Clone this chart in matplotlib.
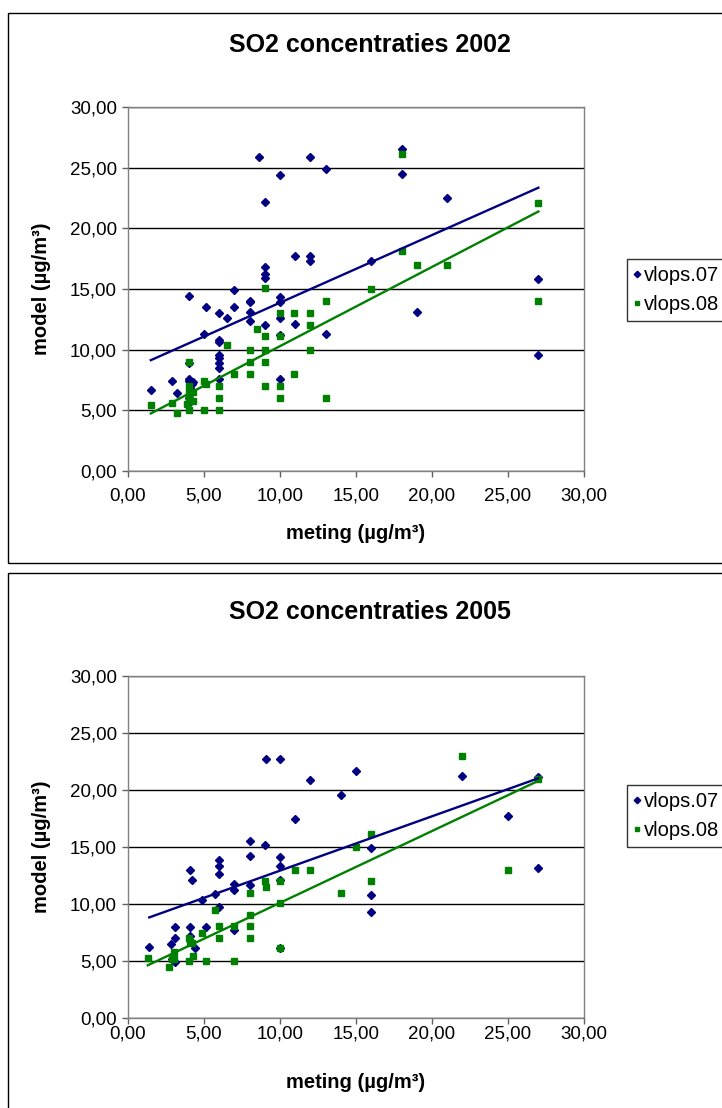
import matplotlib.pyplot as plt
from matplotlib.patches import Rectangle
from matplotlib.ticker import FuncFormatter
import numpy as np

plt.rcParams['font.family'] = ['Liberation Sans', 'DejaVu Sans']

# 2002 data (meting, model)
x07_2002 = [1.5, 2.9, 3.2, 4.0, 4.0, 4.0, 4.0, 4.2, 4.3, 4.0, 4.0, 4.0, 4.1, 5.0, 5.1, 6.0, 6.0,
            6.0, 6.0, 6.0, 6.0, 6.0, 6.0, 6.5, 7.0, 7.0, 8.0, 8.0, 8.0, 8.0, 8.6, 9.0, 9.0, 9.0,
            9.0, 9.0, 10.0, 10.0, 10.0, 10.0, 10.0, 10.0, 11.0, 11.0, 12.0, 12.0, 12.0, 13.0,
            13.0, 16.0, 18.0, 18.0, 19.0, 21.0, 27.0, 27.0]
y07_2002 = [6.7, 7.4, 6.4, 14.4, 8.9, 7.6, 7.4, 7.2, 7.3, 5.6, 6.0, 6.3, 6.8, 11.3, 13.5, 13.0,
            10.8, 10.6, 9.6, 9.3, 8.9, 8.5, 7.6, 12.6, 13.5, 14.9, 14.0, 13.9, 13.1, 12.4, 25.9,
            22.2, 16.8, 16.2, 15.9, 12.0, 24.4, 14.3, 13.9, 12.6, 11.2, 7.6, 17.7, 12.1, 25.9,
            17.7, 17.3, 24.9, 11.3, 17.3, 26.5, 24.5, 13.1, 22.5, 15.8, 9.6]
x08_2002 = [1.5, 2.9, 3.2, 4.0, 4.0, 4.0, 4.3, 4.0, 4.0, 4.3, 3.9, 5.0, 5.1, 5.0, 6.0, 6.0, 6.0,
            6.5, 7.0, 8.0, 8.0, 8.0, 8.5, 9.0, 9.0, 9.0, 9.0, 9.0, 10.0, 10.0, 10.0, 10.0, 10.9,
            10.9, 12.0, 12.0, 12.0, 13.0, 13.0, 16.0, 18.0, 18.0, 19.0, 21.0, 27.0, 27.0]
y08_2002 = [5.4, 5.6, 4.8, 9.0, 7.0, 6.5, 6.5, 6.0, 5.0, 5.8, 5.5, 7.4, 7.2, 5.0, 7.0, 6.0, 5.0,
            10.4, 8.0, 10.0, 9.0, 8.0, 11.7, 15.1, 11.1, 10.0, 9.0, 7.0, 13.0, 11.1, 7.0, 6.0,
            13.0, 8.0, 13.0, 12.0, 10.0, 14.0, 6.0, 15.0, 26.1, 18.1, 17.0, 17.0, 22.1, 14.0]

# 2005 data
x07_2005 = [1.4, 2.8, 2.9, 3.1, 3.1, 3.1, 4.1, 4.2, 4.1, 4.1, 4.4, 4.9, 5.1, 5.7, 6.0, 6.0, 6.0,
            6.0, 7.0, 7.0, 7.0, 8.0, 8.0, 8.0, 9.1, 9.0, 10.0, 10.0, 10.0, 10.0, 10.0, 11.0, 12.0,
            14.0, 15.0, 16.0, 16.0, 16.0, 22.0, 25.0, 27.0, 27.0]
y07_2005 = [6.25, 6.5, 5.2, 4.9, 7.05, 7.95, 13.0, 12.1, 7.95, 7.2, 6.1, 10.35, 7.95, 10.9, 13.9,
            13.3, 12.6, 9.7, 11.75, 11.2, 7.7, 15.5, 14.25, 11.7, 22.7, 15.2, 22.7, 14.1, 13.3,
            12.1, 6.1, 17.5, 20.9, 19.6, 21.7, 14.9, 10.8, 9.3, 21.2, 17.7, 13.2, 21.1]
x08_2005 = [1.3, 2.7, 2.9, 3.0, 3.0, 4.0, 4.1, 4.2, 4.0, 4.3, 4.85, 5.1, 5.7, 6.0, 6.0, 7.0, 7.0,
            8.0, 8.0, 8.0, 8.0, 9.0, 9.1, 10.0, 10.0, 10.0, 11.0, 12.0, 14.0, 15.0, 16.0, 16.0,
            22.0, 25.0, 27.0]
y08_2005 = [5.25, 4.45, 5.15, 5.15, 5.75, 7.0, 6.7, 6.6, 5.0, 5.4, 7.5, 5.0, 9.5, 8.05, 7.0,
            8.05, 5.0, 11.0, 9.0, 8.05, 7.0, 12.05, 11.5, 12.05, 10.05, 6.1, 13.0, 13.0, 11.0,
            15.0, 16.1, 12.0, 23.0, 13.0, 21.0]

series_names = ['vlops.07', 'vlops.08']
years = ['2002', '2005']

W, H = 722, 1108
fig = plt.figure(figsize=(W / 100, H / 100), dpi=100)

# outer chart boxes (pixel coords)
for top, bot in [(13, 563), (573, 1120)]:
    fig.patches.append(Rectangle((8 / W, 1 - bot / H), (W + 20) / W, (bot - top) / H,
                                 transform=fig.transFigure, fill=False, ec='black', lw=1))

comma = FuncFormatter(lambda v, p: f'{v:.2f}'.replace('.', ','))


def draw(ax, xs07, ys07, xs08, ys08, year, title_y, xlab_y, xpad, leg_top):
    for x, y, c, m, ms, name in [(xs07, ys07, '#000080', 'D', 4.4, series_names[0]),
                                 (xs08, ys08, '#008000', 's', 4.2, series_names[1])]:
        ax.plot(x, y, ls='none', marker=m, ms=ms, color=c, mec=c, label=name, zorder=3)
        k, b = np.polyfit(x, y, 1)
        xx = np.array([min(x), max(x)])
        ax.plot(xx, k * xx + b, color=c, lw=1.7, zorder=4)
    ax.set_xlim(0, 30)
    ax.set_ylim(0, 30)
    ax.set_xticks(np.arange(0, 31, 5))
    ax.set_yticks(np.arange(0, 31, 5))
    ax.xaxis.set_major_formatter(comma)
    ax.yaxis.set_major_formatter(comma)
    ax.grid(axis='y', color='black', lw=1)
    ax.set_axisbelow(True)
    for s in ax.spines.values():
        s.set_color('#808080')
        s.set_linewidth(1)
    ax.tick_params(direction='out', length=4, width=1, color='#606060', labelsize=13.5)
    ax.tick_params(axis='y', pad=4)
    ax.tick_params(axis='x', pad=xpad)
    ax.set_xlabel('meting (µg/m³)', fontsize=14.5, fontweight='bold', va='center')
    ax.set_ylabel('model (µg/m³)', fontsize=14.5, fontweight='bold', va='center')
    ax.yaxis.set_label_coords(-0.19, 0.5)
    ax.xaxis.set_label_coords(0.5, xlab_y)
    fig.text(370 / W, 1 - title_y / H, f'SO2 concentraties {year}', ha='center', va='center',
             fontsize=18, fontweight='bold')
    h, l = ax.get_legend_handles_labels()
    leg = fig.legend(h, l, loc='upper left', bbox_to_anchor=(627 / W, 1 - leg_top / H),
                     frameon=True, fancybox=False, edgecolor='black', fontsize=14.5,
                     handlelength=0.25, handletextpad=0.25, borderpad=0.35, labelspacing=0.5,
                     markerscale=0.75, borderaxespad=0)
    leg.get_frame().set_linewidth(1)


ax1 = fig.add_axes([128 / W, 1 - 471 / H, 456 / W, 364 / H])
draw(ax1, x07_2002, y07_2002, x08_2002, y08_2002, years[0], 45, -0.172, 8.0, 259)
ax2 = fig.add_axes([128 / W, 1 - 1018 / H, 456 / W, 342 / H])
draw(ax2, x07_2005, y07_2005, x08_2005, y08_2005, years[1], 612, -0.19, 1.5, 785)

fig.savefig('out.png', dpi=100)
